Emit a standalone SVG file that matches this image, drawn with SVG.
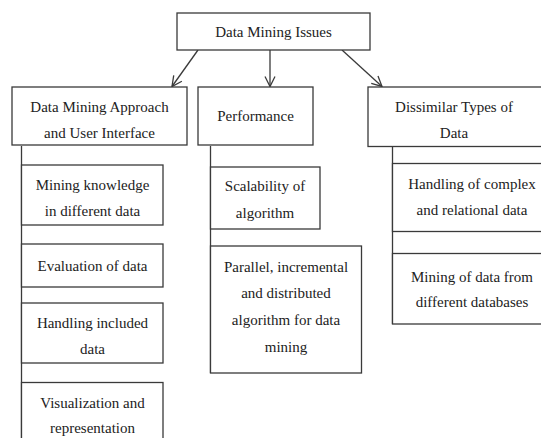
<svg xmlns="http://www.w3.org/2000/svg" width="541" height="438" viewBox="0 0 541 438">
<defs>
<style>
.box{fill:#fff;stroke:#3a3a3a;stroke-width:1.3}
.line{fill:none;stroke:#3a3a3a;stroke-width:1.3}
text{font-family:"Liberation Serif","Times New Roman",serif;font-size:15px;fill:#222;text-anchor:middle}
</style>
<marker id="arr" viewBox="0 0 12 12" refX="11" refY="6" markerWidth="12" markerHeight="12" markerUnits="userSpaceOnUse" orient="auto">
<path d="M1,1 L11,6 L1,11" fill="none" stroke="#3a3a3a" stroke-width="1.3"/>
</marker>
</defs>
<rect width="541" height="438" fill="#fff"/>
<g id="connectors">
<line class="line" x1="198" y1="50" x2="172" y2="86.5" marker-end="url(#arr)"/>
<line class="line" x1="270" y1="50" x2="270" y2="86.5" marker-end="url(#arr)"/>
<line class="line" x1="342" y1="50" x2="382" y2="86.5" marker-end="url(#arr)"/>
<line class="line" x1="21.5" y1="146" x2="21.5" y2="440"/>
<line class="line" x1="210.5" y1="146" x2="210.5" y2="373"/>
<line class="line" x1="392.5" y1="146.5" x2="392.5" y2="324"/>
</g>
<g id="root">
<rect class="box" x="177" y="13" width="193" height="37"/>
<text x="273.5" y="36.5">Data Mining Issues</text>
</g>
<g id="approach">
<rect class="box" x="12" y="87" width="175" height="58"/>
<text x="99.5" y="112">Data Mining Approach</text>
<text x="99.5" y="138">and User Interface</text>
</g>
<g id="performance">
<rect class="box" x="198" y="87" width="115" height="58"/>
<text x="255.5" y="121">Performance</text>
</g>
<g id="dissimilar">
<rect class="box" x="368" y="87" width="190" height="59.5"/>
<text x="454" y="112">Dissimilar Types of</text>
<text x="454" y="138">Data</text>
</g>
<g id="mining-knowledge">
<rect class="box" x="21.5" y="165" width="141.5" height="60"/>
<text x="92.5" y="190">Mining knowledge</text>
<text x="92.5" y="216">in different data</text>
</g>
<g id="evaluation">
<rect class="box" x="21.5" y="244" width="141.5" height="43"/>
<text x="92.5" y="270.5">Evaluation of data</text>
</g>
<g id="handling-included">
<rect class="box" x="21.5" y="303" width="141.5" height="60"/>
<text x="92.5" y="327.5">Handling included</text>
<text x="92.5" y="353.5">data</text>
</g>
<g id="visualization">
<rect class="box" x="21.5" y="382.5" width="141.5" height="70"/>
<text x="92.5" y="408">Visualization and</text>
<text x="92.5" y="433">representation</text>
</g>
<g id="scalability">
<rect class="box" x="210.5" y="167" width="109.5" height="62"/>
<text x="265" y="191">Scalability of</text>
<text x="265" y="217.5">algorithm</text>
</g>
<g id="parallel">
<rect class="box" x="210.5" y="246" width="151" height="127"/>
<text x="286" y="271.5">Parallel, incremental</text>
<text x="286" y="298">and distributed</text>
<text x="286" y="325">algorithm for data</text>
<text x="286" y="351.5">mining</text>
</g>
<g id="complex">
<rect class="box" x="392.5" y="163.5" width="170" height="68"/>
<text x="472" y="188.5">Handling of complex</text>
<text x="472" y="215">and relational data</text>
</g>
<g id="databases">
<rect class="box" x="392.5" y="253.5" width="170" height="70.5"/>
<text x="472" y="281.5">Mining of data from</text>
<text x="472" y="306.5">different databases</text>
</g>
</svg>
